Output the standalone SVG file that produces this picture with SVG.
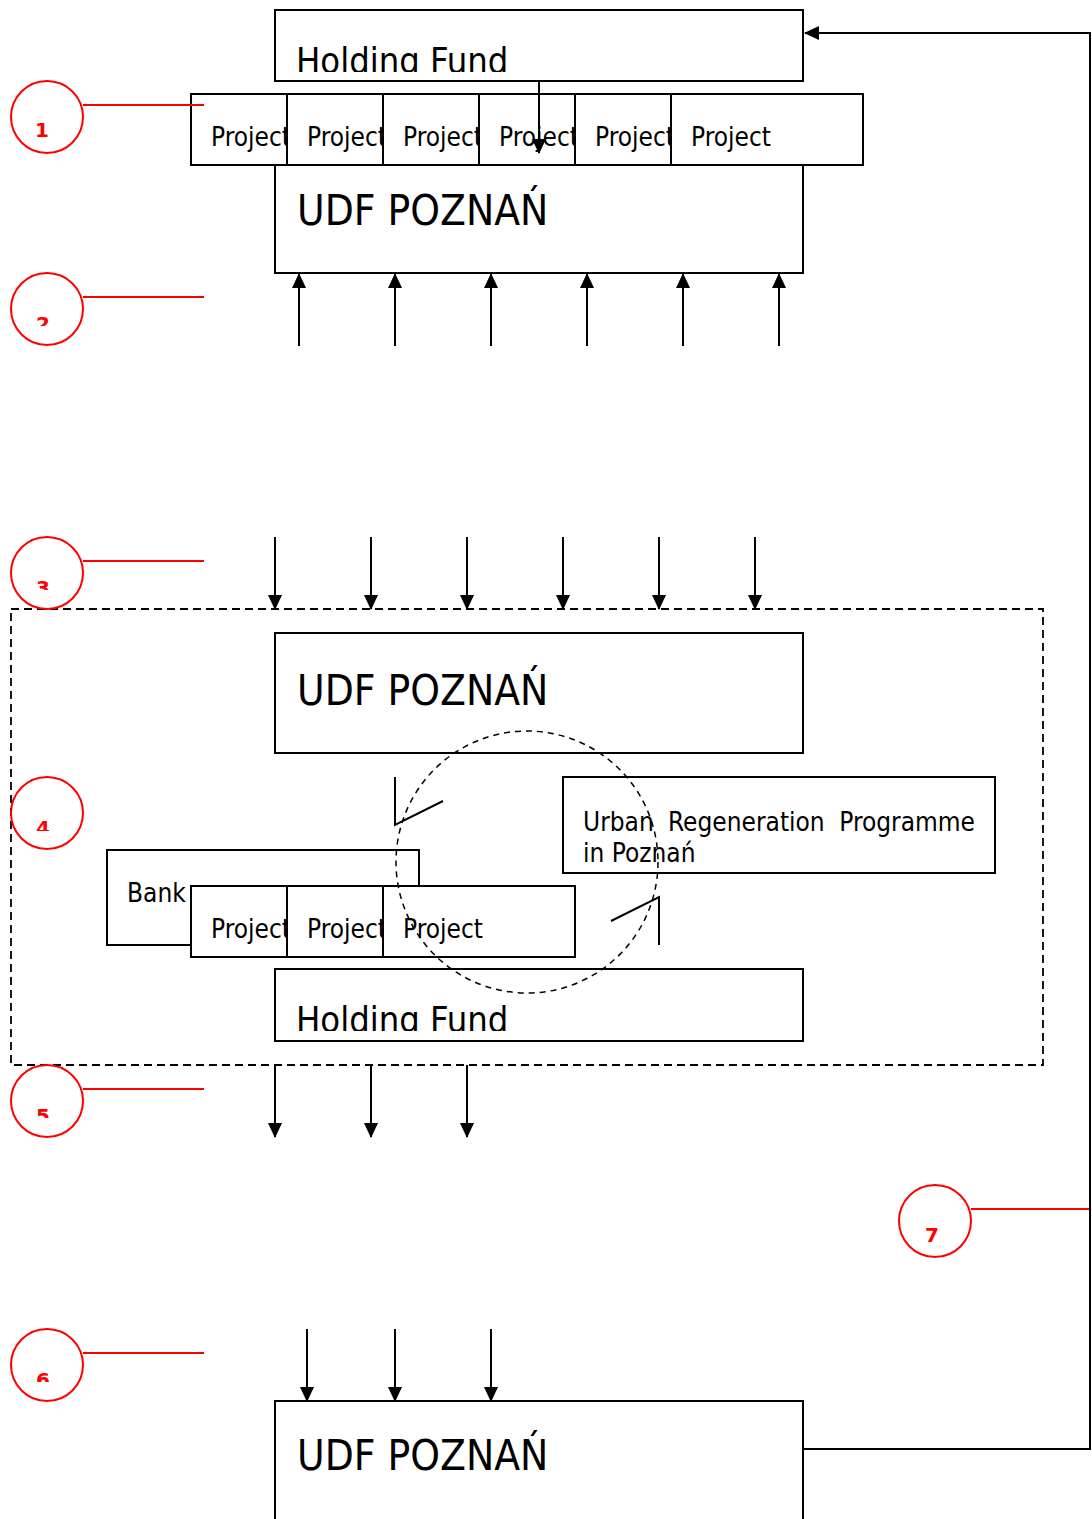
<svg xmlns="http://www.w3.org/2000/svg" width="1092" height="1519" viewBox="0 0 1092 1519">
  <style>
    .box { fill: #fff; stroke: #000; stroke-width: 2; }
    .ln { stroke: #000; stroke-width: 2; fill: none; }
    .red { stroke: #f00; stroke-width: 2; fill: none; }
    .t { font-family: 'DejaVu Sans Condensed', 'DejaVu Sans', sans-serif; font-stretch: condensed; fill: #000; }
    .big { font-size: 42px; }
    .hf { font-size: 36px; }
    .pr { font-size: 26px; }
    .num { font-family: 'DejaVu Sans', sans-serif; font-size: 20px; font-weight: bold; fill: #f00; }
    .dash { stroke: #000; stroke-width: 1.8; fill: none; stroke-dasharray: 8 5; }
    .cdash { stroke: #000; stroke-width: 1.5; fill: none; stroke-dasharray: 6 5; }
  </style>
  <defs>
    <marker id="ah" markerWidth="15" markerHeight="14" refX="14" refY="7" orient="auto" markerUnits="userSpaceOnUse">
      <path d="M0,0 L15,7 L0,14 Z" fill="#000"/>
    </marker>
    <clipPath id="cHF1"><rect x="275" y="10" width="528" height="62"/></clipPath>
    <clipPath id="cHF2"><rect x="275" y="969" width="528" height="62"/></clipPath>
    <clipPath id="cP1"><rect x="191" y="94" width="96" height="71"/></clipPath>
    <clipPath id="cP2"><rect x="287" y="94" width="96" height="71"/></clipPath>
    <clipPath id="cP3"><rect x="383" y="94" width="96" height="71"/></clipPath>
    <clipPath id="cP4"><rect x="479" y="94" width="96" height="71"/></clipPath>
    <clipPath id="cP5"><rect x="575" y="94" width="96" height="71"/></clipPath>
    <clipPath id="cM1"><rect x="191" y="886" width="96" height="71"/></clipPath>
    <clipPath id="cM2"><rect x="287" y="886" width="96" height="71"/></clipPath>
    <clipPath id="cN2"><rect x="20" y="300" width="60" height="26"/></clipPath>
    <clipPath id="cN3"><rect x="20" y="564" width="60" height="26"/></clipPath>
    <clipPath id="cN4"><rect x="20" y="804" width="60" height="27"/></clipPath>
    <clipPath id="cN5"><rect x="20" y="1092" width="60" height="26"/></clipPath>
    <clipPath id="cN6"><rect x="20" y="1356" width="60" height="26"/></clipPath>
  </defs>

  <!-- top section -->
  <g id="udf-top">
    <rect class="box" x="275" y="120" width="528" height="153"/>
    <text class="t big" x="297" y="225">UDF POZNAŃ</text>
  </g>
  <g id="holding-top">
    <rect class="box" x="275" y="10" width="528" height="71"/>
    <text class="t hf" x="296" y="73" clip-path="url(#cHF1)">Holding Fund</text>
  </g>
  <g id="projects-top">
    <rect class="box" x="191" y="94" width="672" height="71"/>
    <line class="ln" x1="287" y1="94" x2="287" y2="165"/>
    <line class="ln" x1="383" y1="94" x2="383" y2="165"/>
    <line class="ln" x1="479" y1="94" x2="479" y2="165"/>
    <line class="ln" x1="575" y1="94" x2="575" y2="165"/>
    <line class="ln" x1="671" y1="94" x2="671" y2="165"/>
    <text class="t pr" x="211" y="146" clip-path="url(#cP1)">Project</text>
    <text class="t pr" x="307" y="146" clip-path="url(#cP2)">Project</text>
    <text class="t pr" x="403" y="146" clip-path="url(#cP3)">Project</text>
    <text class="t pr" x="499" y="146" clip-path="url(#cP4)">Project</text>
    <text class="t pr" x="595" y="146" clip-path="url(#cP5)">Project</text>
    <text class="t pr" x="691" y="146">Project</text>
  </g>

  <!-- middle section -->
  <rect id="frame" class="dash" x="11" y="609" width="1032" height="456"/>
  <g id="udf-mid">
    <rect class="box" x="275" y="633" width="528" height="120"/>
    <text class="t big" x="297" y="705">UDF POZNAŃ</text>
  </g>
  <g id="urban">
    <rect class="box" x="563" y="777" width="432" height="96"/>
    <text class="t pr" x="583" y="831">Urban</text>
    <text class="t pr" x="668" y="831">Regeneration</text>
    <text class="t pr" x="975" y="831" text-anchor="end">Programme</text>
    <text class="t pr" x="583" y="862">in Poznań</text>
  </g>
  <g id="bank">
    <rect class="box" x="107" y="850" width="312" height="95"/>
    <text class="t pr" x="127" y="902">Bank</text>
  </g>
  <g id="projects-mid">
    <rect class="box" x="191" y="886" width="384" height="71"/>
    <line class="ln" x1="287" y1="886" x2="287" y2="957"/>
    <line class="ln" x1="383" y1="886" x2="383" y2="957"/>
    <text class="t pr" x="211" y="938" clip-path="url(#cM1)">Project</text>
    <text class="t pr" x="307" y="938" clip-path="url(#cM2)">Project</text>
    <text class="t pr" x="403" y="938">Project</text>
  </g>
  <g id="holding-mid">
    <rect class="box" x="275" y="969" width="528" height="72"/>
    <text class="t hf" x="296" y="1032" clip-path="url(#cHF2)">Holding Fund</text>
  </g>

  <!-- bottom section -->
  <g id="udf-bottom">
    <rect class="box" x="275" y="1401" width="528" height="130"/>
    <text class="t big" x="297" y="1470">UDF POZNAŃ</text>
  </g>

  <!-- red step markers -->
  <g id="step1">
    <circle class="red" cx="47" cy="117" r="36"/>
    <line class="red" x1="83" y1="105" x2="204" y2="105"/>
    <text class="num" x="42" y="137" text-anchor="middle">1</text>
  </g>
  <g id="step2">
    <circle class="red" cx="47" cy="309" r="36"/>
    <line class="red" x1="83" y1="297" x2="204" y2="297"/>
    <text class="num" x="43" y="331" text-anchor="middle" clip-path="url(#cN2)">2</text>
  </g>
  <g id="step3">
    <circle class="red" cx="47" cy="573" r="36"/>
    <line class="red" x1="83" y1="561" x2="204" y2="561"/>
    <text class="num" x="43" y="595" text-anchor="middle" clip-path="url(#cN3)">3</text>
  </g>
  <g id="step4">
    <circle class="red" cx="47" cy="813" r="36"/>
    <text class="num" x="43" y="835" text-anchor="middle" clip-path="url(#cN4)">4</text>
  </g>
  <g id="step5">
    <circle class="red" cx="47" cy="1101" r="36"/>
    <line class="red" x1="83" y1="1089" x2="204" y2="1089"/>
    <text class="num" x="43" y="1123" text-anchor="middle" clip-path="url(#cN5)">5</text>
  </g>
  <g id="step6">
    <circle class="red" cx="47" cy="1365" r="36"/>
    <line class="red" x1="83" y1="1353" x2="204" y2="1353"/>
    <text class="num" x="43" y="1387" text-anchor="middle" clip-path="url(#cN6)">6</text>
  </g>
  <g id="step7">
    <circle class="red" cx="935" cy="1221" r="36"/>
    <line class="red" x1="971" y1="1209" x2="1090" y2="1209"/>
    <text class="num" x="932" y="1242" text-anchor="middle">7</text>
  </g>

  <!-- connectors -->
  <g id="connectors">
    <line class="ln" x1="539" y1="81" x2="539" y2="153" marker-end="url(#ah)"/>

    <line class="ln" x1="299" y1="346" x2="299" y2="274" marker-end="url(#ah)"/>
    <line class="ln" x1="395" y1="346" x2="395" y2="274" marker-end="url(#ah)"/>
    <line class="ln" x1="491" y1="346" x2="491" y2="274" marker-end="url(#ah)"/>
    <line class="ln" x1="587" y1="346" x2="587" y2="274" marker-end="url(#ah)"/>
    <line class="ln" x1="683" y1="346" x2="683" y2="274" marker-end="url(#ah)"/>
    <line class="ln" x1="779" y1="346" x2="779" y2="274" marker-end="url(#ah)"/>

    <line class="ln" x1="275" y1="537" x2="275" y2="609" marker-end="url(#ah)"/>
    <line class="ln" x1="371" y1="537" x2="371" y2="609" marker-end="url(#ah)"/>
    <line class="ln" x1="467" y1="537" x2="467" y2="609" marker-end="url(#ah)"/>
    <line class="ln" x1="563" y1="537" x2="563" y2="609" marker-end="url(#ah)"/>
    <line class="ln" x1="659" y1="537" x2="659" y2="609" marker-end="url(#ah)"/>
    <line class="ln" x1="755" y1="537" x2="755" y2="609" marker-end="url(#ah)"/>

    <!-- circular flow with open arrowheads -->
    <circle class="cdash" cx="527" cy="862" r="131"/>
    <polyline class="ln" points="395,777 395,825 443,801"/>
    <polyline class="ln" points="659,945 659,897 611,921"/>

    <line class="ln" x1="275" y1="1065" x2="275" y2="1137" marker-end="url(#ah)"/>
    <line class="ln" x1="371" y1="1065" x2="371" y2="1137" marker-end="url(#ah)"/>
    <line class="ln" x1="467" y1="1065" x2="467" y2="1137" marker-end="url(#ah)"/>

    <line class="ln" x1="307" y1="1329" x2="307" y2="1401" marker-end="url(#ah)"/>
    <line class="ln" x1="395" y1="1329" x2="395" y2="1401" marker-end="url(#ah)"/>
    <line class="ln" x1="491" y1="1329" x2="491" y2="1401" marker-end="url(#ah)"/>

    <polyline class="ln" points="803,1449 1090,1449 1090,33 805,33" marker-end="url(#ah)"/>
  </g>
</svg>
